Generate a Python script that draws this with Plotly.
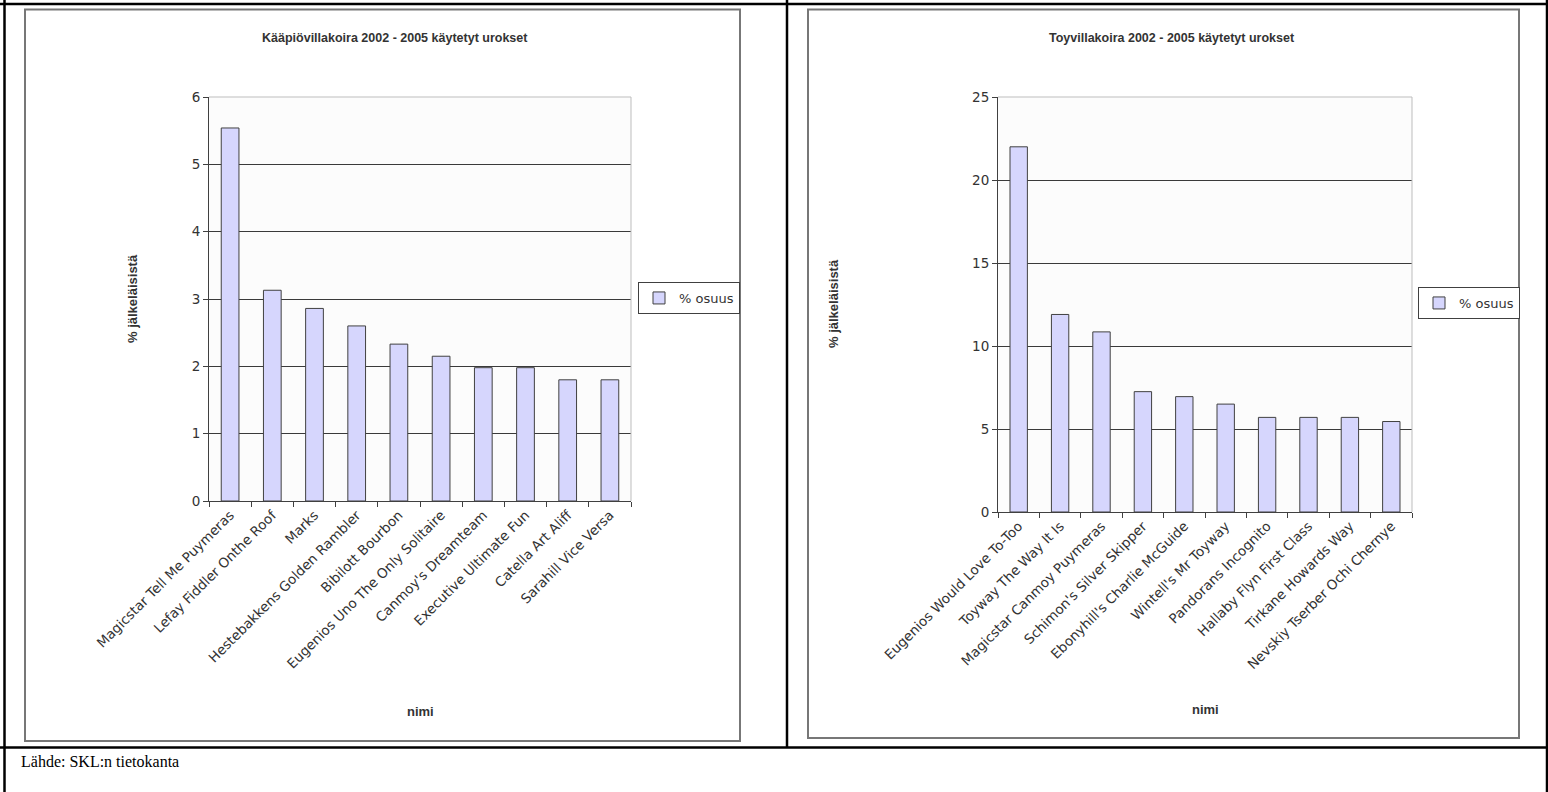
import plotly.graph_objects as go

W, H = 1548, 792

# ---- data ----
left_title = "Kääpiövillakoira 2002 - 2005 käytetyt urokset"
left_names = ["Magicstar Tell Me Puymeras", "Lefay Fiddler Onthe Roof", "Marks",
              "Hestebakkens Golden Rambler", "Bibilott Bourbon", "Eugenios Uno The Only Solitaire",
              "Canmoy's Dreamteam", "Executive Ultimate Fun", "Catella Art Aliff", "Sarahill Vice Versa"]
left_values = [5.54, 3.13, 2.86, 2.60, 2.33, 2.15, 1.98, 1.98, 1.80, 1.80]
left_yticks = [0, 1, 2, 3, 4, 5, 6]

right_title = "Toyvillakoira 2002 - 2005 käytetyt urokset"
right_names = ["Eugenios Would Love To-Too", "Toyway The Way It Is", "Magicstar Canmoy Puymeras",
               "Schimon's Silver Skipper", "Ebonyhill's Charlie McGuide", "Wintell's Mr Toyway",
               "Pandorans Incognito", "Hallaby Flyn First Class", "Tirkane Howards Way",
               "Nevskiy Tserber Ochi Chernye"]
right_values = [22.0, 11.9, 10.85, 7.25, 6.95, 6.5, 5.7, 5.7, 5.7, 5.45]
right_yticks = [0, 5, 10, 15, 20, 25]

series_name = "% osuus"
y_title = "% jälkeläisistä"
x_title = "nimi"
source = "Lähde: SKL:n tietokanta"

# ---- helpers ----
def px(x):
    return x / W

def py(y):
    return 1 - y / H

BAR = "#d6d6fd"
EDGE = "#404040"
TXT = "#333333"
TICKFONT = dict(family="DejaVu Sans", size=13.5, color=TXT)

fig = go.Figure()
fig.add_trace(go.Bar(x=left_names, y=left_values, name=series_name, xaxis="x", yaxis="y",
                     marker=dict(color=BAR, line=dict(color=EDGE, width=1)), legend="legend"))
fig.add_trace(go.Bar(x=right_names, y=right_values, name=series_name, xaxis="x2", yaxis="y2",
                     marker=dict(color=BAR, line=dict(color=EDGE, width=1)), legend="legend2"))

def xax(domain, anchor):
    return dict(domain=domain, anchor=anchor, type="category", tickangle=-45,
                showline=True, linecolor=EDGE, linewidth=1, ticks="outside", ticklen=5,
                tickcolor=EDGE, tickson="boundaries", showgrid=False, tickfont=TICKFONT,
                fixedrange=True, automargin=False)

def yax(domain, anchor, ticks):
    return dict(domain=domain, anchor=anchor, range=[0, ticks[-1]], tickvals=ticks,
                showline=True, linecolor=EDGE, linewidth=1, ticks="outside", ticklen=5,
                tickcolor=EDGE, showgrid=True, gridcolor="#3a3a3a", gridwidth=1,
                zeroline=False, tickfont=TICKFONT, fixedrange=True, automargin=False)

L = dict(x0=209, x1=631, y0=97, y1=501)
R = dict(x0=998, x1=1412, y0=97, y1=512)

LEGFONT = dict(family="DejaVu Sans", size=13, color=TXT)
fig.update_layout(
    width=W, height=H, margin=dict(l=0, r=0, t=0, b=0, autoexpand=False),
    paper_bgcolor="white", plot_bgcolor="#fcfcfc",
    bargap=0.58, showlegend=True,
    xaxis=xax([px(L["x0"]), px(L["x1"])], "y"),
    yaxis=yax([py(L["y1"]), py(L["y0"])], "x", left_yticks),
    xaxis2=xax([px(R["x0"]), px(R["x1"])], "y2"),
    yaxis2=yax([py(R["y1"]), py(R["y0"])], "x2", right_yticks),
    legend=dict(x=px(689), y=py(298), xanchor="center", yanchor="middle",
                bordercolor=EDGE, borderwidth=1, bgcolor="white", font=LEGFONT,
                itemwidth=30, tracegroupgap=0),
    legend2=dict(x=px(1469), y=py(303), xanchor="center", yanchor="middle",
                 bordercolor=EDGE, borderwidth=1, bgcolor="white", font=LEGFONT,
                 itemwidth=30, tracegroupgap=0),
)

shapes = []
# plot area top/right borders (light grey)
for ax in ("x", "x2"):
    yref = "y" if ax == "x" else "y2"
    shapes.append(dict(type="line", xref=f"{ax} domain", yref=f"{yref} domain",
                       x0=0, x1=1, y0=1, y1=1, line=dict(color="#bdbdbd", width=1)))
    shapes.append(dict(type="line", xref=f"{ax} domain", yref=f"{yref} domain",
                       x0=1, x1=1, y0=0, y1=1, line=dict(color="#bdbdbd", width=1)))
# chart boxes
shapes.append(dict(type="rect", xref="paper", yref="paper", x0=px(25), x1=px(740),
                   y0=py(741), y1=py(9.5), line=dict(color="#777777", width=2)))
shapes.append(dict(type="rect", xref="paper", yref="paper", x0=px(808), x1=px(1519),
                   y0=py(738), y1=py(9.5), line=dict(color="#777777", width=2)))
# outer table lines
for (x0, y0, x1, y1) in [(0, 4, W, 4), (4.5, 0, 4.5, H), (787, 0, 787, 747.5),
                         (0, 747.5, W, 747.5), (1547, 0, 1547, H)]:
    shapes.append(dict(type="line", xref="paper", yref="paper", x0=px(x0), x1=px(x1),
                       y0=py(y0), y1=py(y1), line=dict(color="black", width=2.5)))
fig.update_layout(shapes=shapes)

ann = []
TF = dict(family="Liberation Sans", size=12.5, color=TXT)
AF = dict(family="Liberation Sans", size=13, color=TXT)
ann.append(dict(text=f"<b>{left_title}</b>", x=px(395), y=py(38), xref="paper", yref="paper",
                showarrow=False, font=TF, xanchor="center", yanchor="middle"))
ann.append(dict(text=f"<b>{right_title}</b>", x=px(1172), y=py(38), xref="paper", yref="paper",
                showarrow=False, font=TF, xanchor="center", yanchor="middle"))
ann.append(dict(text=f"<b>{x_title}</b>", x=px(420), y=py(711), xref="paper", yref="paper",
                showarrow=False, font=AF, xanchor="center", yanchor="middle"))
ann.append(dict(text=f"<b>{x_title}</b>", x=px(1205), y=py(709), xref="paper", yref="paper",
                showarrow=False, font=AF, xanchor="center", yanchor="middle"))
ann.append(dict(text=f"<b>{y_title}</b>", x=px(132), y=py(299), xref="paper", yref="paper",
                showarrow=False, font=AF, textangle=-90, xanchor="center", yanchor="middle"))
ann.append(dict(text=f"<b>{y_title}</b>", x=px(833), y=py(304), xref="paper", yref="paper",
                showarrow=False, font=AF, textangle=-90, xanchor="center", yanchor="middle"))
ann.append(dict(text=source, x=px(19), y=py(761), xref="paper", yref="paper",
                showarrow=False, font=dict(family="Liberation Serif", size=16, color="black"),
                xanchor="left", yanchor="middle"))
fig.update_layout(annotations=ann)

fig.write_html("out.html", config={"displayModeBar": False},
               post_script="document.body.style.margin='0';document.body.style.overflow='hidden';")
